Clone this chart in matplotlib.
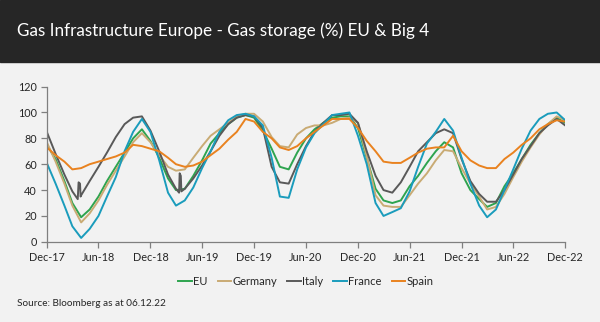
import pandas as pd
import matplotlib
matplotlib.use("Agg")
import matplotlib.pyplot as plt
import matplotlib.dates as mdates

plt.rcParams['font.family'] = ['Lato', 'DejaVu Sans']

# monthly storage levels (%), Dec-17 .. Dec-22
months = pd.date_range("2017-12-01", "2022-12-01", freq="MS")

eu = [75, 64, 47, 30, 19, 25, 35, 47, 58, 69, 80, 87, 78, 65, 49, 40, 41, 51, 63, 76,
      84, 91, 96, 98, 96, 86, 72, 58, 56, 69, 80, 87, 92, 96, 97, 97, 88, 65, 41, 32,
      30, 32, 43, 51, 61, 70, 77, 73, 53, 40, 33, 27, 30, 43, 53, 64, 75, 84, 91, 96, 92]
germany = [77, 62, 45, 28, 15, 22, 32, 44, 55, 66, 77, 84, 77, 67, 58, 55, 56, 65, 74, 82,
           87, 92, 97, 99, 99, 93, 81, 74, 73, 83, 88, 90, 90, 92, 95, 96, 92, 66, 36, 28,
           27, 27, 36, 45, 53, 63, 71, 70, 57, 45, 35, 25, 27, 37, 50, 62, 73, 83, 91, 97, 94]
italy = [85, 68, 52, 39, 36, 47, 58, 69, 81, 91, 96, 97, 86, 70, 52, 41, 41, 49, 59, 70,
         82, 91, 96, 98, 97, 88, 58, 46, 45, 60, 74, 85, 92, 98, 98, 99, 92, 70, 51, 40,
         38, 46, 58, 70, 77, 84, 87, 84, 64, 47, 37, 31, 31, 40, 52, 64, 74, 84, 90, 95, 90]
france = [61, 45, 28, 12, 3, 10, 20, 35, 50, 70, 85, 95, 85, 63, 38, 28, 32, 42, 57, 70,
          85, 94, 98, 99, 97, 90, 65, 35, 34, 56, 73, 84, 91, 98, 99, 100, 82, 60, 30, 20,
          23, 26, 39, 58, 76, 85, 95, 86, 65, 45, 28, 19, 25, 40, 56, 72, 86, 95, 99, 100, 94]
spain = [73, 67, 62, 56, 57, 60, 62, 64, 66, 69, 75, 74, 72, 70, 65, 60, 58, 59, 62, 67,
         72, 79, 85, 95, 93, 85, 80, 73, 71, 74, 80, 85, 90, 95, 95, 95, 88, 78, 70, 62,
         61, 61, 65, 69, 72, 73, 73, 82, 70, 63, 59, 57, 57, 64, 69, 75, 80, 87, 91, 94, 93]

# short-lived jumps in the Italian series
italy_spike_dates = pd.to_datetime(["2018-03-20", "2018-03-23", "2018-03-28", "2018-03-30",
                                    "2019-03-12", "2019-03-14", "2019-03-18", "2019-03-20"])
italy_spike_vals = [33, 46, 45, 35, 38, 53, 51, 39]

series = {
    "EU": (pd.Series(eu, index=months), "#2ea44f"),
    "Germany": (pd.Series(germany, index=months), "#c9ab74"),
    "Italy": (pd.concat([pd.Series(italy, index=months),
                         pd.Series(italy_spike_vals, index=italy_spike_dates)]).sort_index(), "#595959"),
    "France": (pd.Series(france, index=months), "#1a9cbc"),
    "Spain": (pd.Series(spain, index=months), "#e9821f"),
}

bg = "#f2f2f2"
fig = plt.figure(figsize=(6, 3.22), dpi=100, facecolor=bg)

# dark title band
fig.patches.append(plt.Rectangle((0, 0.807), 1, 0.193, transform=fig.transFigure,
                                 color="#262626", zorder=0))
fig.text(0.028, 0.905, "Gas Infrastructure Europe - Gas storage (%) EU & Big 4",
         color="white", fontsize=12.3, va="center", ha="left")

ax = fig.add_axes([0.078, 0.249, 0.864, 0.482])
ax.set_facecolor(bg)
for name, (s, c) in series.items():
    ax.plot(s.index, s.values, color=c, lw=1.4, label=name)

ax.set_ylim(0, 120)
ax.set_yticks(range(0, 121, 20))
ax.set_xlim(pd.Timestamp("2017-12-01"), pd.Timestamp("2022-12-01"))
ax.xaxis.set_major_locator(mdates.MonthLocator(bymonth=[6, 12]))
ax.xaxis.set_major_formatter(mdates.DateFormatter("%b-%y"))

for side in ["top", "right"]:
    ax.spines[side].set_visible(False)
for side in ["left", "bottom"]:
    ax.spines[side].set_color("#7f7f7f")
    ax.spines[side].set_linewidth(0.9)
ax.tick_params(axis="both", direction="out", length=4, width=0.9, color="#7f7f7f",
               labelsize=7.8, labelcolor="#262626", pad=3)

ax.legend(loc="center", bbox_to_anchor=(0.5, -0.258), ncol=5, frameon=False, fontsize=8,
          handlelength=1.2, handletextpad=0.15, columnspacing=0.9, labelcolor="#262626")

fig.text(0.028, 0.056, "Source: Bloomberg as at 06.12.22", fontsize=7.2, color="#262626",
         va="center", ha="left")

fig.savefig("out.png", dpi=100, facecolor=bg)
